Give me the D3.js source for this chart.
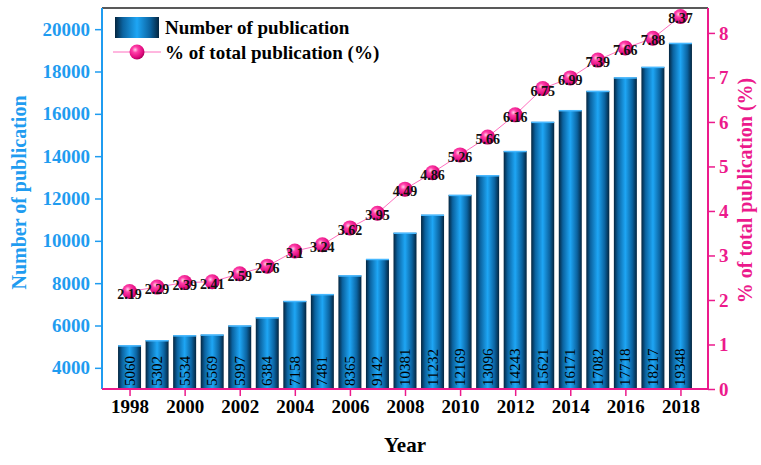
<!DOCTYPE html>
<html><head><meta charset="utf-8">
<script src="https://cdn.jsdelivr.net/npm/d3@7"></script>
<style>
body{margin:0;background:#fff;}
text{font-family:"Liberation Serif","Times New Roman",serif;}
</style></head>
<body>
<svg id="chart" width="761" height="465"></svg>
<script>
const years = [1998,1999,2000,2001,2002,2003,2004,2005,2006,2007,2008,2009,2010,2011,2012,2013,2014,2015,2016,2017,2018];
const publications = [5060,5302,5534,5569,5997,6384,7158,7481,8365,9142,10381,11232,12169,13096,14243,15621,16171,17082,17718,18217,19348];
const percents = [2.19,2.29,2.39,2.41,2.59,2.76,3.1,3.24,3.62,3.95,4.49,4.86,5.26,5.66,6.16,6.75,6.99,7.39,7.66,7.88,8.37];
const percentLabels = ["2.19","2.29","2.39","2.41","2.59","2.76","3.1","3.24","3.62","3.95","4.49","4.86","5.26","5.66","6.16","6.75","6.99","7.39","7.66","7.88","8.37"];
const leftTicks = [4000,6000,8000,10000,12000,14000,16000,18000,20000];
const rightTicks = [0,1,2,3,4,5,6,7,8];
const xTicks = [1998,2000,2002,2004,2006,2008,2010,2012,2014,2016,2018];

const BLUE = "#1f9cf0", PINK = "#ec1a8c";
const m = {l:102, r:708, t:8, b:389};
const svg = d3.select("#chart");
const defs = svg.append("defs");
const bg = defs.append("linearGradient").attr("id","barg").attr("x1","0").attr("x2","1").attr("y1","0").attr("y2","0");
[[0,"#04253f"],[0.18,"#0b63a0"],[0.5,"#1ea6f5"],[0.8,"#0b63a0"],[1,"#04253f"]].forEach(s=>bg.append("stop").attr("offset",s[0]).attr("stop-color",s[1]));
const rg = defs.append("radialGradient").attr("id","ball").attr("cx","0.38").attr("cy","0.35").attr("r","0.65");
[[0,"#ffd0ea"],[0.3,"#ff3ea8"],[0.8,"#e0097e"],[1,"#b3005f"]].forEach(s=>rg.append("stop").attr("offset",s[0]).attr("stop-color",s[1]));

const x = d3.scaleLinear().domain([1997,2019]).range([m.l,m.r]);
const yL = d3.scaleLinear().domain([3000,21000]).range([m.b,m.t]);
const yR = d3.scaleLinear().domain([0,8.56]).range([m.b,m.t]);
const bw = 23;

// bars
svg.append("g").selectAll("rect").data(years).join("rect")
  .attr("x",(d)=>x(d)-bw/2).attr("width",bw)
  .attr("y",(d,i)=>yL(publications[i])).attr("height",(d,i)=>yL(3000)-yL(publications[i]))
  .attr("fill","url(#barg)");
svg.append("g").selectAll("line").data(years).join("line")
  .attr("x1",d=>x(d)-bw/2).attr("x2",d=>x(d)+bw/2)
  .attr("y1",(d,i)=>yL(publications[i])+0.5).attr("y2",(d,i)=>yL(publications[i])+0.5)
  .attr("stroke","#47b8ff").attr("stroke-width",1.5);
svg.append("g").selectAll("text").data(years).join("text")
  .attr("transform",(d)=>`translate(${x(d)+5},${m.b-3}) rotate(-90)`)
  .attr("font-size",15).attr("fill","#000").text((d,i)=>publications[i]);

// frame
svg.append("line").attr("x1",m.l).attr("x2",m.r).attr("y1",m.t).attr("y2",m.t).attr("stroke","#222").attr("stroke-width",1.5);

// axes
const gL = svg.append("g").attr("transform",`translate(${m.l},0)`)
  .call(d3.axisLeft(yL).tickValues(leftTicks).tickSize(7).tickPadding(5).tickFormat(d3.format("d")));
gL.select(".domain").attr("stroke",BLUE).attr("stroke-width",2).attr("d",`M0,${m.t}V${m.b}`);
gL.selectAll(".tick line").attr("stroke",BLUE).attr("stroke-width",1.5);
gL.selectAll(".tick text").attr("fill",BLUE).attr("font-size",19).attr("font-weight","bold").attr("font-family","Liberation Serif");

const gR = svg.append("g").attr("transform",`translate(${m.r},0)`)
  .call(d3.axisRight(yR).tickValues(rightTicks).tickSize(7).tickPadding(4).tickFormat(d3.format("d")));
gR.select(".domain").attr("stroke",PINK).attr("stroke-width",2).attr("d",`M0,${m.t}V${m.b}`);
gR.selectAll(".tick line").attr("stroke",PINK).attr("stroke-width",1.5);
gR.selectAll(".tick text").attr("fill",PINK).attr("font-size",19).attr("font-weight","bold").attr("font-family","Liberation Serif");

const gX = svg.append("g").attr("transform",`translate(0,${m.b})`)
  .call(d3.axisBottom(x).tickValues(xTicks).tickSize(7).tickPadding(4).tickFormat(d3.format("d")));
gX.select(".domain").attr("stroke",PINK).attr("stroke-width",2).attr("d",`M${m.l},0H${m.r}`);
gX.selectAll(".tick line").attr("stroke",PINK).attr("stroke-width",1.5);
gX.selectAll(".tick text").attr("fill","#000").attr("font-size",19).attr("font-weight","bold").attr("font-family","Liberation Serif");

// line + markers
const line = d3.line().x((d,i)=>x(years[i])).y(d=>yR(d));
svg.append("path").datum(percents).attr("d",line).attr("fill","none").attr("stroke","#ff6fbf").attr("stroke-width",1);
svg.append("g").selectAll("circle").data(percents).join("circle")
  .attr("cx",(d,i)=>x(years[i])).attr("cy",d=>yR(d)).attr("r",7.5).attr("fill","url(#ball)");
svg.append("g").selectAll("text").data(percents).join("text")
  .attr("x",(d,i)=>x(years[i])).attr("y",d=>yR(d)+7).attr("text-anchor","middle")
  .attr("font-size",14).attr("font-weight","bold").attr("fill","#111").text((d,i)=>percentLabels[i]);

// titles
svg.append("text").attr("transform",`translate(26,${(m.t+m.b)/2-6}) rotate(-90)`).attr("text-anchor","middle")
  .attr("font-size",20).attr("font-weight","bold").attr("fill",BLUE).text("Number of publication");
svg.append("text").attr("transform",`translate(752,${(m.t+m.b)/2-8}) rotate(-90)`).attr("text-anchor","middle")
  .attr("font-size",20).attr("font-weight","bold").attr("fill",PINK).text("% of total publication (%)");
svg.append("text").attr("x",(m.l+m.r)/2).attr("y",452).attr("text-anchor","middle")
  .attr("font-size",21).attr("font-weight","bold").attr("fill","#000").text("Year");

// legend
const lg = svg.append("g");
lg.append("rect").attr("x",115).attr("y",17).attr("width",44).attr("height",21).attr("fill","url(#barg)");
lg.append("text").attr("x",165).attr("y",34).attr("font-size",19).attr("font-weight","bold").attr("fill","#000").text("Number of publication");
lg.append("line").attr("x1",113).attr("x2",161).attr("y1",52).attr("y2",52).attr("stroke","#ff6fbf").attr("stroke-width",1);
lg.append("circle").attr("cx",137).attr("cy",52).attr("r",7.5).attr("fill","url(#ball)");
lg.append("text").attr("x",165).attr("y",59).attr("font-size",19).attr("font-weight","bold").attr("fill","#000").text("% of total publication (%)");
</script>
</body></html>
